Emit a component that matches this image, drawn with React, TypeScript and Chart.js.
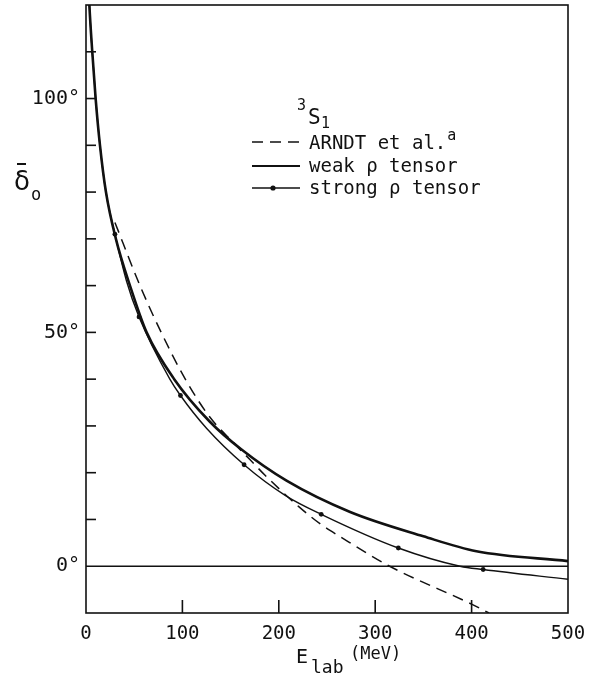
import { useEffect, useRef } from "react";
import { Chart, registerables } from "chart.js";

Chart.register(...registerables);

// Lab energy axis (MeV) and phase-shift axis (degrees)
const energyTicks = [0, 100, 200, 300, 400, 500];
const degreeTicks = [10, 20, 30, 40, 50, 60, 70, 80, 90, 100, 110];
const degreeLabels = [0, 50, 100];

// 3S1 phase shift, weak rho tensor coupling
const weakE = [1.5, 3.5, 6.5, 10, 14.5, 20.7, 31, 45.6, 62.9, 91.5, 128, 161, 208, 274, 350, 405, 500];
const weakDelta = [130, 120, 110, 100, 90, 80, 70, 60, 50, 40, 31, 25, 18.3, 11.6, 6.4, 3.2, 1.1];

// 3S1 phase shift, strong rho tensor coupling
const strongE = [1.5, 3.5, 6.5, 10, 14.5, 20.7, 30, 42, 55, 87, 98, 125, 164, 207, 244, 324, 388, 412, 500];
const strongDelta = [130, 120, 110, 100, 90, 80, 71, 61, 53.3, 40, 36.5, 29.5, 21.7, 15.1, 11.1, 3.9, 0, -0.7, -2.8];
const strongMarkers = [30, 55, 98, 164, 244, 324, 412];

// Arndt et al. phase-shift analysis
const arndtE = [30, 56, 78, 103, 128, 155, 170, 186, 221, 244, 263, 315, 401, 418];
const arndtDelta = [73.5, 60, 50, 40, 32, 26, 22.8, 19.4, 12.7, 8.9, 6.4, 0, -8.2, -10];

const INK = "#111";
const MONO = "'DejaVu Sans Mono', monospace";

const toPoints = (xs: number[], ys: number[]) => xs.map((x, i) => ({ x, y: ys[i] }));

const decorations = {
  id: "decorations",
  afterDatasetsDraw(chart: any) {
    const { ctx, chartArea: a, scales } = chart;
    const x = scales.x;
    const y = scales.y;
    ctx.save();
    ctx.strokeStyle = INK;
    ctx.fillStyle = INK;

    // frame
    ctx.lineWidth = 1.6;
    ctx.strokeRect(a.left, a.top, a.right - a.left, a.bottom - a.top);

    // zero line
    ctx.lineWidth = 1.3;
    const y0 = y.getPixelForValue(0);
    ctx.beginPath();
    ctx.moveTo(a.left, y0);
    ctx.lineTo(a.right, y0);
    ctx.stroke();

    // inward ticks
    ctx.lineWidth = 1.6;
    degreeTicks.forEach((v) => {
      const py = y.getPixelForValue(v);
      ctx.beginPath();
      ctx.moveTo(a.left, py);
      ctx.lineTo(a.left + 10, py);
      ctx.stroke();
    });
    energyTicks
      .filter((v) => v > 0 && v < 500)
      .forEach((v) => {
        const px = x.getPixelForValue(v);
        ctx.beginPath();
        ctx.moveTo(px, a.bottom);
        ctx.lineTo(px, a.bottom - 13);
        ctx.stroke();
      });
    ctx.restore();
  },
  afterDraw(chart: any) {
    const { ctx } = chart;
    ctx.save();
    ctx.fillStyle = INK;
    ctx.strokeStyle = INK;
    ctx.textBaseline = "alphabetic";
    ctx.textAlign = "left";

    // y-axis title: delta-bar sub 0
    ctx.font = `26px 'DejaVu Sans'`;
    ctx.fillText("δ", 14, 190);
    ctx.lineWidth = 2;
    ctx.beginPath();
    ctx.moveTo(17, 164);
    ctx.lineTo(26, 164);
    ctx.stroke();
    ctx.font = `17px ${MONO}`;
    ctx.fillText("o", 31, 200);

    // x-axis title: E_lab (MeV)
    ctx.font = `20px ${MONO}`;
    ctx.fillText("E", 296, 663);
    ctx.font = `18px ${MONO}`;
    ctx.fillText("lab", 311, 673);
    ctx.font = `17px ${MONO}`;
    ctx.fillText("(MeV)", 350, 659);

    // key
    ctx.font = `15px ${MONO}`;
    ctx.fillText("3", 297, 110);
    ctx.font = `21px ${MONO}`;
    ctx.fillText("S", 308, 124);
    ctx.font = `15px ${MONO}`;
    ctx.fillText("1", 321, 128);

    const x0 = 252;
    const x1 = 300;
    const tx = 309;
    ctx.lineWidth = 1.6;
    ctx.setLineDash([11, 7]);
    ctx.beginPath();
    ctx.moveTo(x0, 142);
    ctx.lineTo(x1, 142);
    ctx.stroke();
    ctx.setLineDash([]);

    ctx.lineWidth = 1.8;
    ctx.beginPath();
    ctx.moveTo(x0, 166);
    ctx.lineTo(x1, 166);
    ctx.stroke();

    ctx.lineWidth = 1.5;
    ctx.beginPath();
    ctx.moveTo(x0, 188);
    ctx.lineTo(x1, 188);
    ctx.stroke();
    ctx.beginPath();
    ctx.arc(273, 188, 2.6, 0, Math.PI * 2);
    ctx.fill();

    ctx.font = `19px ${MONO}`;
    const arndt = "ARNDT et al.";
    ctx.fillText(arndt, tx, 149);
    const w = ctx.measureText(arndt).width;
    ctx.font = `15px ${MONO}`;
    ctx.fillText("a", tx + w + 1, 140);
    ctx.font = `19px ${MONO}`;
    ctx.fillText("weak ρ tensor", tx, 172);
    ctx.fillText("strong ρ tensor", tx, 194);
    ctx.restore();
  },
};

export default function App() {
  const canvasRef = useRef<HTMLCanvasElement | null>(null);

  useEffect(() => {
    const canvas = canvasRef.current;
    if (!canvas) return;
    const chart = new Chart(canvas, {
      type: "line",
      data: {
        datasets: [
          {
            label: "weak ρ tensor",
            data: toPoints(weakE, weakDelta),
            borderColor: INK,
            borderWidth: 2.6,
            pointRadius: 0,
            cubicInterpolationMode: "monotone",
          },
          {
            label: "strong ρ tensor",
            data: toPoints(strongE, strongDelta),
            borderColor: INK,
            backgroundColor: INK,
            borderWidth: 1.4,
            pointRadius: (c: any) => (strongMarkers.includes(strongE[c.dataIndex]) ? 2.4 : 0),
            pointBorderWidth: 0,
            pointBackgroundColor: INK,
            cubicInterpolationMode: "monotone",
          },
          {
            label: "ARNDT et al.",
            data: toPoints(arndtE, arndtDelta),
            borderColor: INK,
            borderWidth: 1.5,
            borderDash: [11, 7],
            pointRadius: 0,
            cubicInterpolationMode: "monotone",
          },
        ],
      },
      options: {
        animation: false,
        responsive: false,
        maintainAspectRatio: false,
        devicePixelRatio: 1,
        layout: { padding: { left: 0, top: 5, right: 28, bottom: 0 } },
        plugins: { legend: { display: false }, tooltip: { enabled: false } },
        scales: {
          x: {
            type: "linear",
            min: 0,
            max: 500,
            grid: { display: false, drawTicks: false },
            border: { display: false },
            ticks: {
              stepSize: 100,
              padding: 10,
              color: INK,
              font: { family: MONO, size: 19 },
              maxRotation: 0,
            },
            afterFit: (s: any) => {
              s.height = 70;
              s.paddingLeft = 0;
              s.paddingRight = 0;
            },
          },
          y: {
            type: "linear",
            min: -10,
            max: 120,
            grid: { display: false, drawTicks: false },
            border: { display: false },
            ticks: {
              stepSize: 10,
              padding: 6,
              color: INK,
              font: { family: MONO, size: 20 },
              callback: (v: any) => (degreeLabels.includes(Number(v)) ? `${v}°` : ""),
            },
            afterFit: (s: any) => {
              s.width = 86;
              s.paddingTop = 0;
              s.paddingBottom = 0;
            },
          },
        },
      },
      plugins: [decorations],
    });
    return () => chart.destroy();
  }, []);

  return (
    <div style={{ position: "absolute", left: 0, top: 0, width: 596, height: 683, background: "#fff" }}>
      <canvas ref={canvasRef} width={596} height={683} style={{ display: "block" }} />
    </div>
  );
}
